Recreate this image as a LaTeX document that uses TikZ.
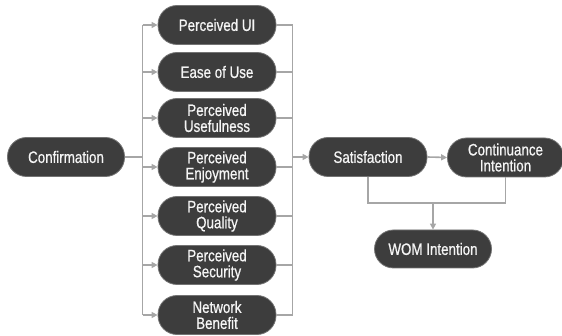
\documentclass[tikz,border=0pt]{standalone}
\usepackage{fontspec}
\setmainfont[FakeStretch=0.81,FakeBold=0.7]{Liberation Sans}
\usetikzlibrary{arrows.meta}
\begin{document}
\begin{tikzpicture}[x=1pt,y=-1pt,
  pill/.style={draw=black!55, line width=0.8pt, fill=black!76, text=black!4,
    rounded corners=19pt, minimum width=118pt, minimum height=39pt,
    inner sep=1pt, align=center, font=\fontsize{16.5}{16}\selectfont},
  conn/.style={draw=black!35, line width=1.6pt},
  arr/.style={conn, -{Triangle[length=6pt,width=6pt]}}]
\useasboundingbox (0,0) rectangle (562,336);
\node[pill, minimum width=117pt] (conf) at (66,157) {Confirmation};
\node[pill] (ui) at (217,25) {Perceived UI};
\node[pill] (ease) at (217,72) {Ease of Use};
\node[pill] (useful) at (217,118) {Perceived\\Usefulness};
\node[pill] (enjoy) at (217,167) {Perceived\\Enjoyment};
\node[pill] (qual) at (217,216) {Perceived\\Quality};
\node[pill] (sec) at (217,265) {Perceived\\Security};
\node[pill] (net) at (217,315) {Network\\Benefit};
\node[pill] (sat) at (368,157) {Satisfaction};
\node[pill, minimum width=116pt] (cont) at (505.5,157.5) {Continuance\\Intention};
\node[pill, minimum width=117pt, minimum height=38pt] (wom) at (433,249) {WOM Intention};
% left bus
\coordinate (lb) at (142.5,157);
\draw[conn] (conf.east) -- (lb);
\draw[conn] (142.5,25) -- (142.5,315);
\foreach \n in {ui,ease,useful,enjoy,qual,sec,net}{
  \draw[arr] (\n.west -| lb) -- (\n.west);
}
% right bus
\coordinate (rb) at (292.5,157);
\draw[conn] (292.5,25) -- (292.5,315);
\foreach \n in {ui,ease,useful,enjoy,qual,sec,net}{
  \draw[conn] (\n.east) -- (\n.east -| rb);
}
\draw[arr] (rb) -- (sat.west);
\draw[arr] (sat.east) -- (cont.west);
% join
\coordinate (jn) at (433,203);
\draw[conn] (sat.south) |- (jn) -| (cont.south);
\draw[arr] (jn) -- (wom.north);
\end{tikzpicture}
\end{document}
